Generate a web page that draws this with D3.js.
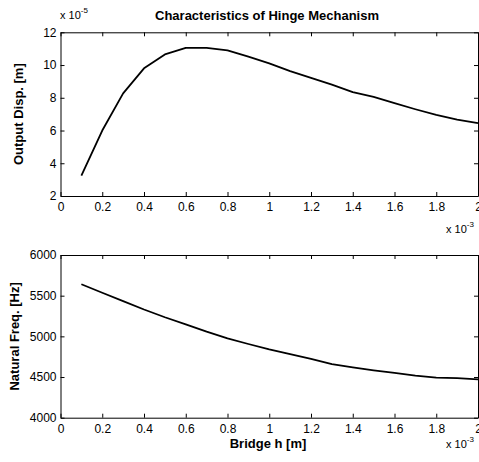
<!DOCTYPE html>
<html><head><meta charset="utf-8">
<script src="https://cdn.jsdelivr.net/npm/d3@7"></script>
<style>
html,body{margin:0;padding:0;background:#fff;}
svg{display:block;}
text{font-family:Arial,"Liberation Sans",Helvetica,sans-serif;fill:#000;}
</style></head>
<body>
<div id="chart"></div>
<script>
// Bridge height h (x 10^-3 m)
const bridgeH = [0.1,0.2,0.3,0.4,0.5,0.6,0.7,0.8,0.9,1.0,1.1,1.2,1.3,1.4,1.5,1.6,1.7,1.8,1.9,2.0];
// Output displacement (x 10^-5 m)
const outputDisp = [3.25,6.0,8.27,9.8,10.65,11.05,11.05,10.9,10.51,10.1,9.63,9.22,8.8,8.35,8.05,7.68,7.3,6.95,6.66,6.45];
// Natural frequency (Hz)
const naturalFreq = [5640,5536,5434,5330,5235,5148,5058,4976,4906,4839,4780,4722,4658,4618,4582,4550,4516,4493,4486,4470];

const xTicks = [0,0.2,0.4,0.6,0.8,1,1.2,1.4,1.6,1.8,2];
const yTicksDisp = [2,4,6,8,10,12];
const yTicksFreq = [4000,4500,5000,5500,6000];

const title = "Characteristics of Hinge Mechanism";
const yLabelDisp = "Output Disp. [m]";
const yLabelFreq = "Natural Freq. [Hz]";
const xLabel = "Bridge h [m]";

const W = 479, H = 462;
const svg = d3.select("#chart").append("svg").attr("width", W).attr("height", H);

const left = 60.5, right = 478;
const x = d3.scaleLinear().domain([0,2]).range([left, right]);
const TL = 4;

function panel(top, bottom, yDomain, yTicks, values, ylabel, ylabelX) {
  const y = d3.scaleLinear().domain(yDomain).range([bottom, top]);
  const g = svg.append("g");
  const fmtX = d => d3.format("~g")(d);

  // bottom axis (ticks inward)
  g.append("g").attr("transform", `translate(0,${bottom})`)
    .call(d3.axisBottom(x).tickValues(xTicks).tickSizeInner(-TL).tickSizeOuter(0).tickPadding(4.5).tickFormat(fmtX))
    .call(a => a.select(".domain").attr("stroke","#000"))
    .call(a => a.selectAll("text").attr("font-size", 12).attr("dy","0.9em"));
  // top axis
  g.append("g").attr("transform", `translate(0,${top})`)
    .call(d3.axisTop(x).tickValues(xTicks).tickSizeInner(-TL).tickSizeOuter(0).tickFormat(""))
    .call(a => a.select(".domain").attr("stroke","#000"));
  // left axis
  g.append("g").attr("transform", `translate(${left},0)`)
    .call(d3.axisLeft(y).tickValues(yTicks).tickSizeInner(-TL).tickSizeOuter(0).tickPadding(4).tickFormat(d3.format("d")))
    .call(a => a.select(".domain").attr("stroke","#000"))
    .call(a => a.selectAll("text").attr("font-size", 12));
  // right axis
  g.append("g").attr("transform", `translate(${right},0)`)
    .call(d3.axisRight(y).tickValues(yTicks).tickSizeInner(-TL).tickSizeOuter(0).tickFormat(""))
    .call(a => a.select(".domain").attr("stroke","#000"));
  g.selectAll(".tick line").attr("stroke","#000");

  const line = d3.line().x((d,i) => x(bridgeH[i])).y(d => y(d));
  g.append("path").datum(values).attr("d", line)
    .attr("fill","none").attr("stroke","#000").attr("stroke-width",1.8).attr("stroke-linejoin","round");

  g.append("text").attr("transform", `translate(${ylabelX},${(top+bottom)/2}) rotate(-90)`)
    .attr("text-anchor","middle").attr("dominant-baseline","middle")
    .attr("font-size",13).attr("font-weight","bold").text(ylabel);
  return y;
}

const topT = 32.3, topB = 196, botT = 255, botB = 417.7;
panel(topT, topB, [2,12], yTicksDisp, outputDisp, yLabelDisp, 20);
panel(botT, botB, [4000,6000], yTicksFreq, naturalFreq, yLabelFreq, 16);

// title
svg.append("text").attr("x",267).attr("y",19.5).attr("text-anchor","middle")
  .attr("font-size",13).attr("font-weight","bold").text(title);
// x label
svg.append("text").attr("x",268).attr("y",448).attr("text-anchor","middle")
  .attr("font-size",13).attr("font-weight","bold").text(xLabel);

function expLabel(xp, yp, exp) {
  const t = svg.append("text").attr("x",xp).attr("y",yp).attr("font-size",11);
  t.append("tspan").text("x 10");
  t.append("tspan").attr("font-size",8).attr("dy",-6).text(exp);
}
expLabel(60, 19, "-5");
expLabel(446, 233, "-3");
expLabel(446, 448, "-3");
</script>
</body></html>
